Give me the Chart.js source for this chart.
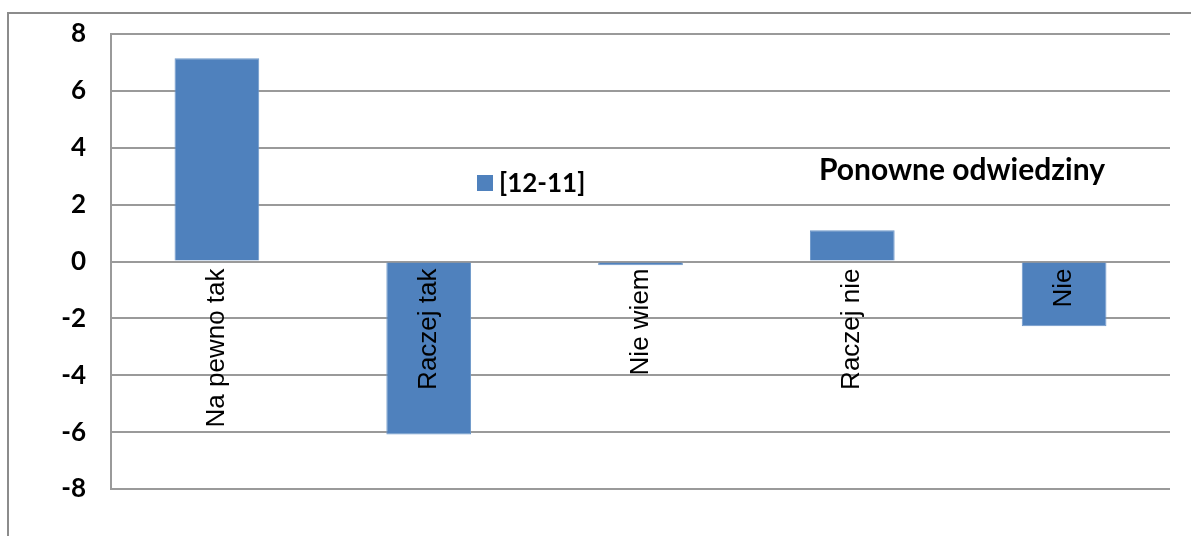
<!DOCTYPE html>
<html>
<head>
<meta charset="utf-8">
<script src="https://cdn.jsdelivr.net/npm/chart.js@4"></script>
<style>
  html, body { margin: 0; padding: 0; background: #fff; }
  #wrap { width: 1191px; height: 536px; }
</style>
</head>
<body>
<div id="wrap"><canvas id="chart" width="1191" height="536"></canvas></div>
<script>
const categories = ["Na pewno tak", "Raczej tak", "Nie wiem", "Raczej nie", "Nie"];
const diffValues = [7.15, -6.08, -0.13, 1.1, -2.28];
const seriesName = "[12-11]";
const chartTitle = "Ponowne odwiedziny";

// ramka wokol calego wykresu
const framePlugin = {
  id: "frame",
  beforeDraw(chart) {
    const c = chart.ctx;
    c.save();
    c.strokeStyle = "#8c8c8c";
    c.lineWidth = 2;
    c.strokeRect(8, 13, 1400, 700);
    c.restore();
  }
};

// etykiety kategorii obrocone, od linii zera w dol
const catLabels = {
  id: "catLabels",
  afterDatasetsDraw(chart) {
    const c = chart.ctx;
    const xs = chart.scales.x;
    const y0 = chart.scales.y.getPixelForValue(0) + 7;
    c.save();
    c.font = "26px 'Liberation Sans', Arial, sans-serif";
    c.fillStyle = "#000";
    c.textAlign = "right";
    c.textBaseline = "middle";
    chart.data.labels.forEach((lab, i) => {
      c.save();
      c.translate(xs.getPixelForValue(i), y0);
      c.rotate(-Math.PI / 2);
      c.fillText(lab, 0, 0);
      c.restore();
    });
    c.restore();
  }
};

// legenda i tytul wewnatrz obszaru wykresu
const legendTitle = {
  id: "legendTitle",
  afterDraw(chart) {
    const c = chart.ctx;
    const ds = chart.data.datasets[0];
    c.save();
    c.fillStyle = ds.backgroundColor;
    c.fillRect(477, 175, 16, 16);
    c.fillStyle = "#000";
    c.font = "bold 26px Lato, sans-serif";
    c.textAlign = "left";
    c.textBaseline = "middle";
    c.fillText(ds.label, 499, 184);
    c.font = "bold 30px Lato, sans-serif";
    c.textAlign = "center";
    c.fillText(chartTitle, 962, 170);
    c.restore();
  }
};

new Chart(document.getElementById("chart"), {
  type: "bar",
  data: {
    labels: categories,
    datasets: [{
      label: seriesName,
      data: diffValues,
      backgroundColor: "#4f81bd",
      borderColor: "#6d97c9",
      borderWidth: 1,
      categoryPercentage: 1,
      barPercentage: 0.4
    }]
  },
  options: {
    responsive: false,
    animation: false,
    layout: { padding: { left: 0, right: 21, top: 34, bottom: 47 } },
    plugins: {
      legend: { display: false },
      tooltip: { enabled: false }
    },
    scales: {
      x: {
        ticks: { display: false },
        grid: { display: false, drawTicks: false },
        border: { display: false }
      },
      y: {
        min: -8,
        max: 8,
        afterFit(scale) {
          scale.width = 111;
          scale.paddingTop = 0;
          scale.paddingBottom = 0;
        },
        ticks: {
          stepSize: 2,
          padding: 25,
          color: "#000",
          font: { family: "Lato", size: 26, weight: "bold" }
        },
        grid: { color: "#9a9a9a", lineWidth: 2, drawTicks: false },
        border: { color: "#9a9a9a", width: 2 }
      }
    }
  },
  plugins: [framePlugin, catLabels, legendTitle]
});
</script>
</body>
</html>
